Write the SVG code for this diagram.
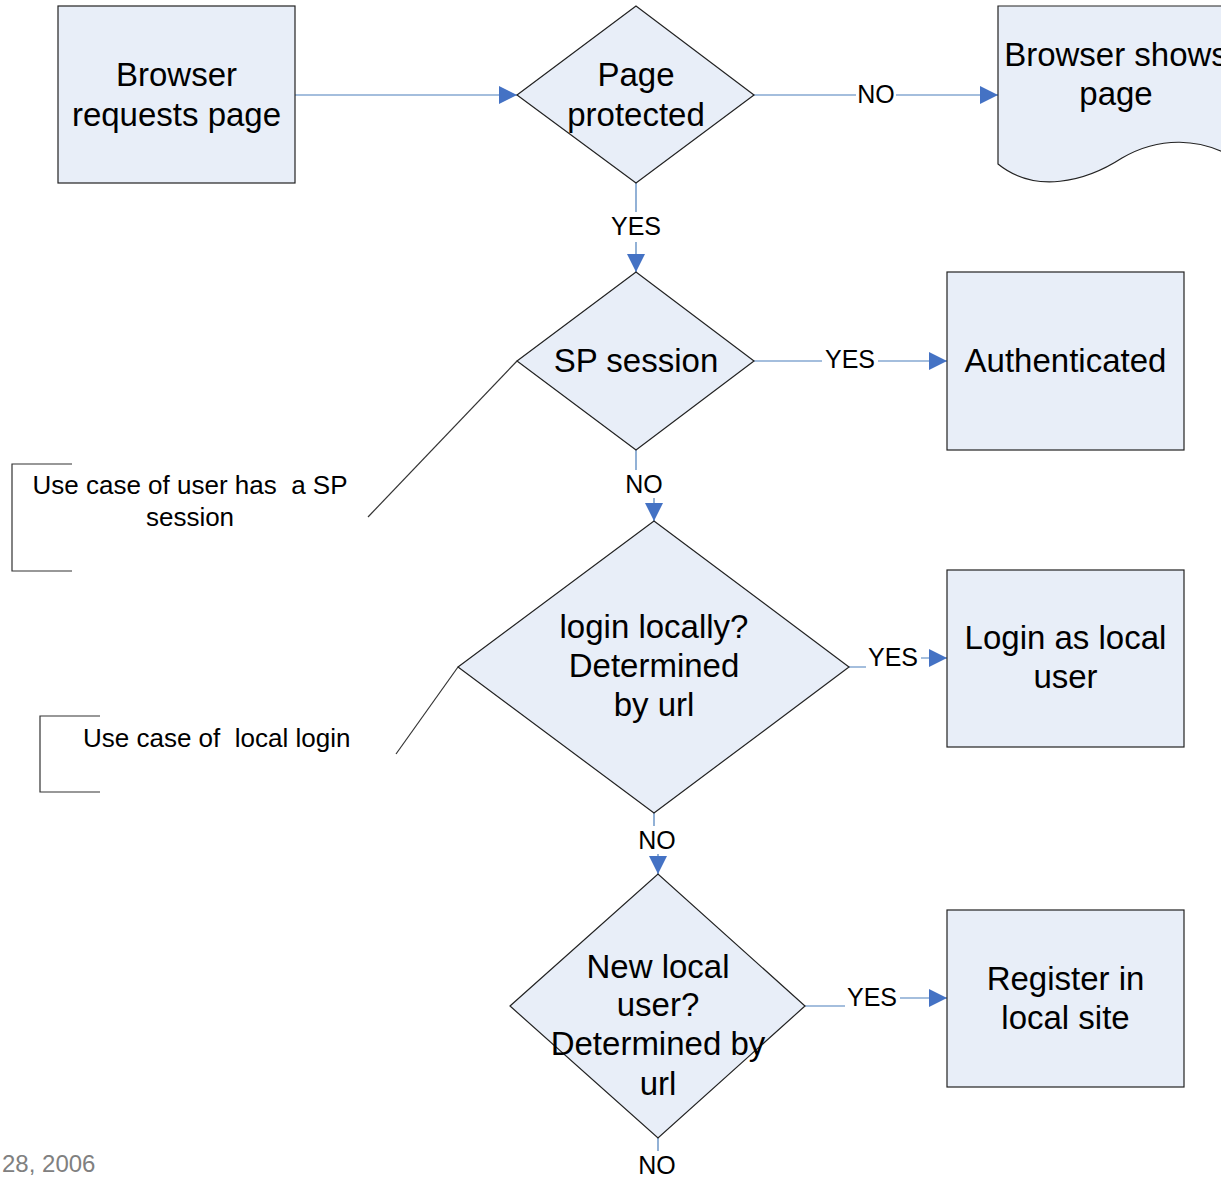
<svg xmlns="http://www.w3.org/2000/svg" width="1221" height="1177" viewBox="0 0 1221 1177">
<style>
.shape{fill:#E8EEF8;stroke:#222;stroke-width:1.2}
.t{font-family:"Liberation Sans",Arial,sans-serif;font-size:33px;fill:#000;text-anchor:middle;dominant-baseline:central}
.lbl{font-family:"Liberation Sans",Arial,sans-serif;font-size:25px;fill:#000;text-anchor:middle;dominant-baseline:central}
.ann{font-family:"Liberation Sans",Arial,sans-serif;font-size:26px;fill:#000;dominant-baseline:central}
.conn{fill:none;stroke:#4A7EBB;stroke-width:1.2}
.bg{fill:#fff}
.note{fill:none;stroke:#333;stroke-width:1.2}
</style>
<defs>
<marker id="arr" markerUnits="userSpaceOnUse" markerWidth="18" markerHeight="18" viewBox="0 0 18 18" refX="18" refY="9" orient="auto">
<path d="M0,0 L18,9 L0,18 Z" fill="#4472C4"/>
</marker>
</defs>
<rect width="1221" height="1177" fill="#fff"/>

<g id="connectors">
<path class="conn" d="M295,95 H517" marker-end="url(#arr)"/>
<path class="conn" d="M754,95 H998" marker-end="url(#arr)"/>
<path class="conn" d="M636,183 V272" marker-end="url(#arr)"/>
<path class="conn" d="M754,361 H947" marker-end="url(#arr)"/>
<path class="conn" d="M636,450 V484 H654 V521" marker-end="url(#arr)"/>
<path class="conn" d="M849,667 H893 V658 H947" marker-end="url(#arr)"/>
<path class="conn" d="M654,813 V840 H658 V874" marker-end="url(#arr)"/>
<path class="conn" d="M805,1006 H872 V998 H947" marker-end="url(#arr)"/>
<path class="conn" d="M658,1138 V1151"/>
<rect class="bg" x="856" y="80" width="40" height="28"/>
<text class="lbl" x="876" y="94">NO</text>
<rect class="bg" x="608" y="212" width="56" height="30"/>
<text class="lbl" x="636" y="226">YES</text>
<rect class="bg" x="822" y="345" width="56" height="28"/>
<text class="lbl" x="850" y="359">YES</text>
<rect class="bg" x="623" y="470" width="42" height="28"/>
<text class="lbl" x="644" y="484">NO</text>
<rect class="bg" x="866" y="643" width="55" height="28"/>
<text class="lbl" x="893" y="657">YES</text>
<rect class="bg" x="636" y="826" width="42" height="28"/>
<text class="lbl" x="657" y="840">NO</text>
<rect class="bg" x="845" y="983" width="55" height="28"/>
<text class="lbl" x="872" y="997">YES</text>
<text class="lbl" x="657" y="1165">NO</text>
</g>

<g id="browser-requests">
<rect class="shape" x="58" y="6" width="237" height="177"/>
<text class="t" x="176.5" y="74">Browser</text>
<text class="t" x="176.5" y="114">requests page</text>
</g>

<g id="page-protected">
<polygon class="shape" points="517,95 636,6 754,95 636,183"/>
<text class="t" x="636" y="74">Page</text>
<text class="t" x="636" y="114">protected</text>
</g>

<g id="browser-shows">
<path class="shape" d="M998,6 H1235 V158 C1200,138 1160,136 1122,158 C1085,182 1035,194 998,164 Z"/>
<text class="t" x="1116" y="54">Browser shows</text>
<text class="t" x="1116" y="93">page</text>
</g>

<g id="sp-session">
<polygon class="shape" points="517,361 636,272 754,361 636,450"/>
<text class="t" x="636" y="360">SP session</text>
</g>

<g id="authenticated">
<rect class="shape" x="947" y="272" width="237" height="178"/>
<text class="t" x="1065.5" y="360">Authenticated</text>
</g>

<g id="login-locally">
<polygon class="shape" points="458,667 654,521 849,667 654,813"/>
<text class="t" x="654" y="626">login locally?</text>
<text class="t" x="654" y="665">Determined</text>
<text class="t" x="654" y="704">by url</text>
</g>

<g id="login-local-user">
<rect class="shape" x="947" y="570" width="237" height="177"/>
<text class="t" x="1065.5" y="637">Login as local</text>
<text class="t" x="1065.5" y="676">user</text>
</g>

<g id="new-local-user">
<polygon class="shape" points="510,1006 658,874 805,1006 658,1138"/>
<text class="t" x="658" y="966">New local</text>
<text class="t" x="658" y="1004">user?</text>
<text class="t" x="658" y="1043">Determined by</text>
<text class="t" x="658" y="1083">url</text>
</g>

<g id="register">
<rect class="shape" x="947" y="910" width="237" height="177"/>
<text class="t" x="1065.5" y="978">Register in</text>
<text class="t" x="1065.5" y="1017">local site</text>
</g>

<g id="note-sp-session">
<path class="note" d="M72,464 H12 V571 H72"/>
<path class="note" d="M517,361 L368,517"/>
<text class="ann" x="190" y="485" text-anchor="middle" xml:space="preserve">Use case of user has  a SP</text>
<text class="ann" x="190" y="517" text-anchor="middle">session</text>
</g>

<g id="note-local-login">
<path class="note" d="M100,716 H40 V792 H100"/>
<path class="note" d="M458,667 L396,754"/>
<text class="ann" x="83" y="738" xml:space="preserve">Use case of  local login</text>
</g>

<text x="2" y="1163" style="font-family:'Liberation Sans',Arial,sans-serif;font-size:24px;fill:#808080;dominant-baseline:central">28, 2006</text>
</svg>
